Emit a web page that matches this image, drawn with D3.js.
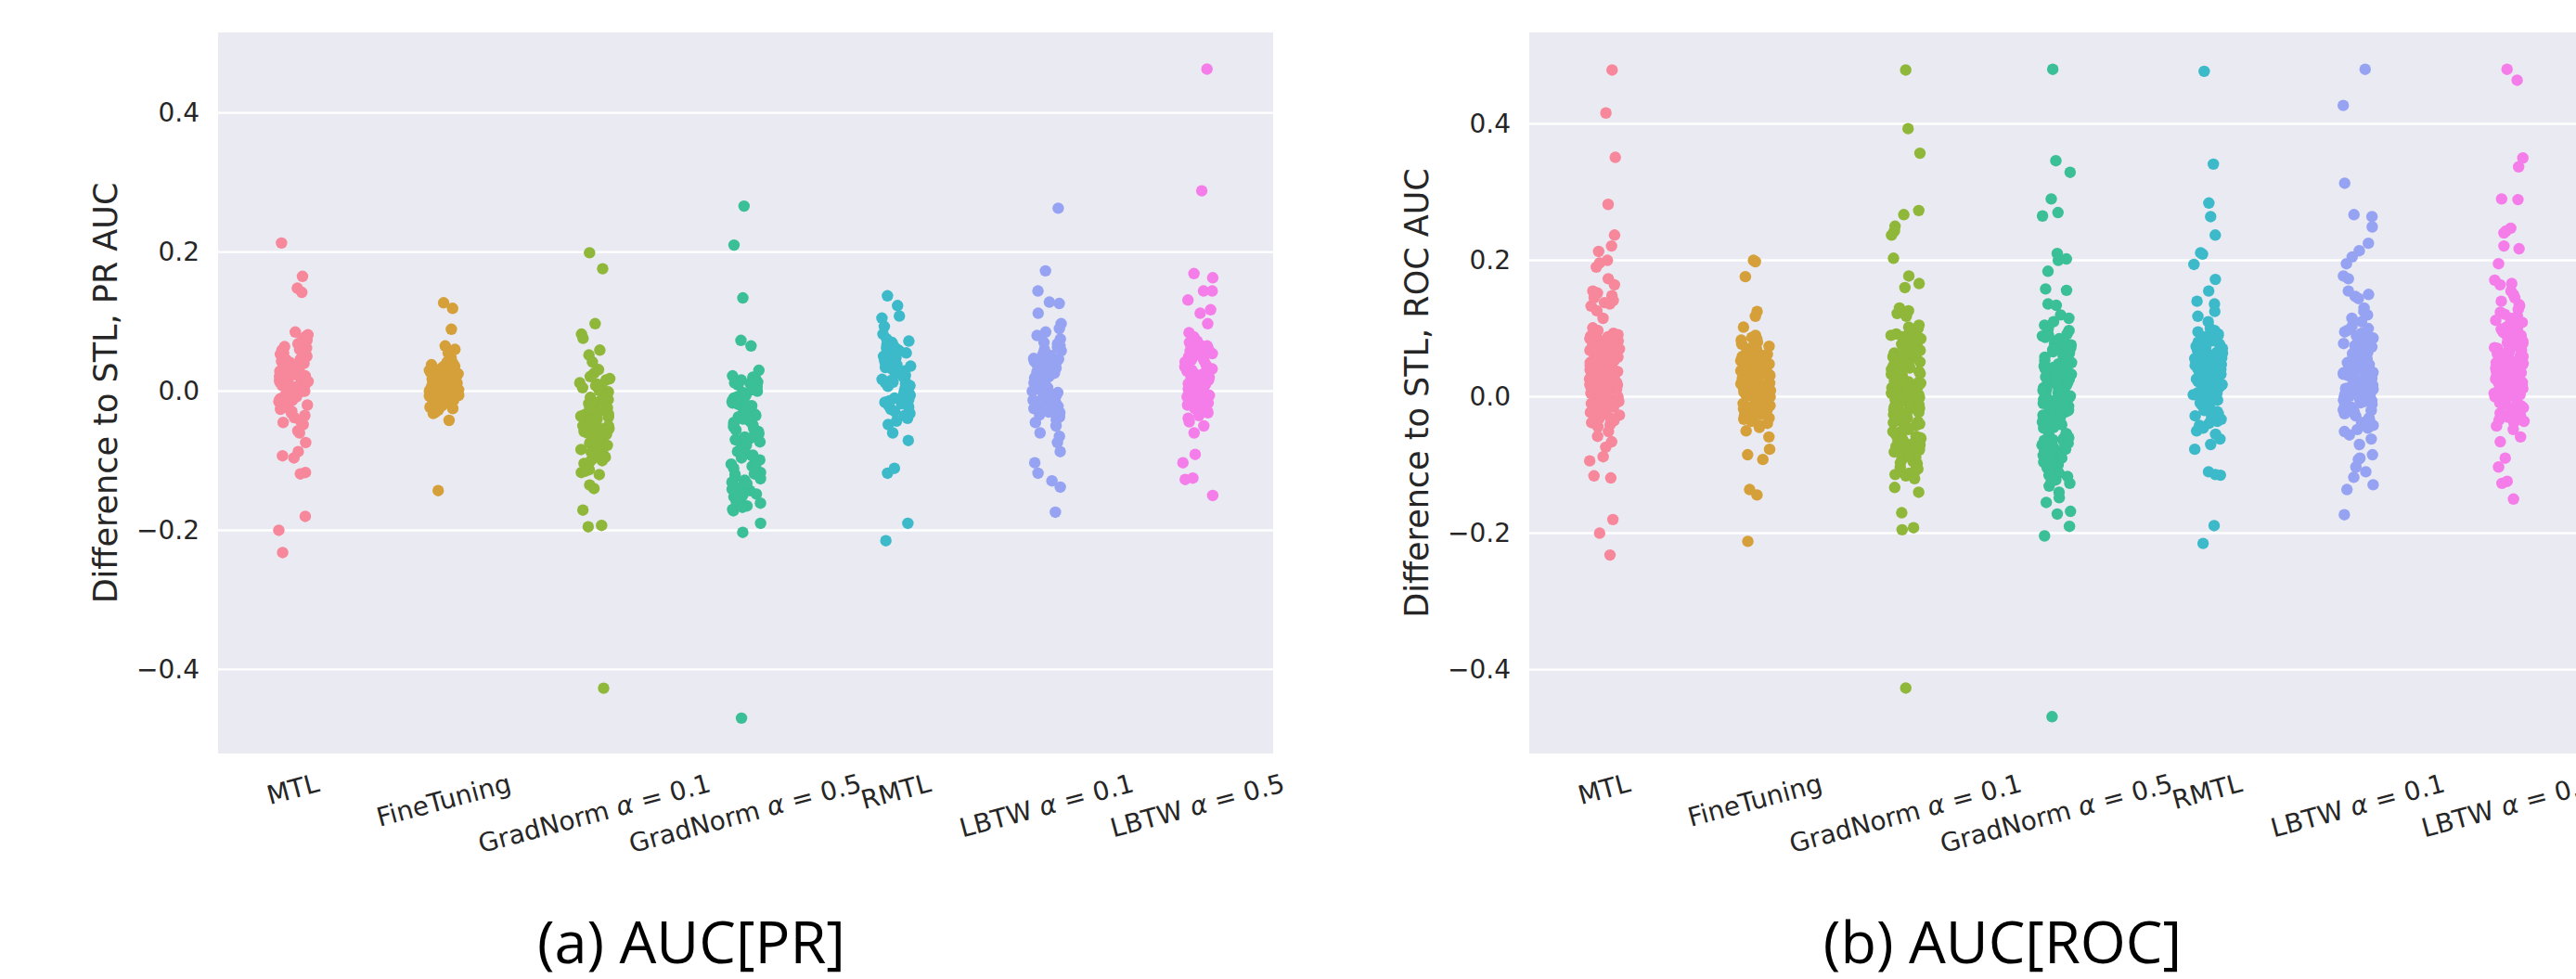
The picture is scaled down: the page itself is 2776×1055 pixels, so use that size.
<!DOCTYPE html>
<html><head><meta charset="utf-8">
<script src="https://cdn.jsdelivr.net/npm/d3@7"></script>
<style>body{margin:0;background:#fff}svg{display:block}</style>
</head><body>
<svg id="c" width="2776" height="1055"></svg>
<script>
const categories = ["MTL","FineTuning","GradNorm α = 0.1","GradNorm α = 0.5","RMTL","LBTW α = 0.1","LBTW α = 0.5"];
const yTickValues = [-0.4,-0.2,0,0.2,0.4];
const palette = ["#f7879a","#d5a03a","#8fb739","#3abf96","#3dbac9","#96a3f2","#f57de9"];
const captions = ["(a) AUC[PR]","(b) AUC[ROC]"];
const yLabels = ["Difference to STL, PR AUC","Difference to STL, ROC AUC"];

// ---- (a) PR AUC ----
const prMTL = [0.213,0.165,0.148,0.142,0.085,0.081,0.079,0.076,0.073,0.071,0.068,0.064,0.062,0.059,0.057,0.055,0.053,0.05,0.047,0.046,0.043,0.041,0.04,0.037,0.035,0.034,0.031,0.029,0.027,0.026,0.023,0.021,0.02,0.018,0.016,0.014,0.013,0.011,0.009,0.008,0.006,0.004,0.002,0.001,-0.001,-0.003,-0.004,-0.006,-0.008,-0.011,-0.013,-0.015,-0.018,-0.02,-0.023,-0.026,-0.029,-0.031,-0.035,-0.038,-0.042,-0.045,-0.048,-0.057,-0.06,-0.074,-0.087,-0.093,-0.096,-0.117,-0.119,-0.18,-0.2,-0.232,0.06,0.045,0.03,0.015,0.0,-0.01,0.052,0.022];
const prFineTuning = [0.127,0.119,0.089,0.065,0.06,0.055,0.048,0.042,0.04,0.038,0.036,0.035,0.033,0.031,0.03,0.029,0.027,0.026,0.025,0.024,0.022,0.021,0.02,0.019,0.018,0.017,0.016,0.015,0.014,0.013,0.012,0.011,0.011,0.01,0.009,0.008,0.008,0.007,0.006,0.005,0.005,0.004,0.003,0.002,0.002,0.001,0.0,0.0,-0.001,-0.002,-0.003,-0.004,-0.005,-0.006,-0.007,-0.008,-0.009,-0.01,-0.011,-0.013,-0.014,-0.016,-0.017,-0.019,-0.021,-0.023,-0.025,-0.027,-0.03,-0.032,-0.042,-0.143];
const prGradNorm01 = [0.199,0.176,0.097,0.082,0.076,0.059,0.052,0.042,0.031,0.026,0.021,0.018,0.016,0.012,0.01,0.008,0.005,0.004,0.001,-0.001,-0.003,-0.006,-0.007,-0.009,-0.012,-0.014,-0.015,-0.018,-0.02,-0.022,-0.024,-0.026,-0.028,-0.03,-0.031,-0.034,-0.036,-0.037,-0.04,-0.042,-0.043,-0.046,-0.048,-0.05,-0.052,-0.054,-0.056,-0.058,-0.06,-0.062,-0.064,-0.066,-0.069,-0.071,-0.073,-0.076,-0.078,-0.081,-0.084,-0.086,-0.089,-0.092,-0.095,-0.098,-0.1,-0.104,-0.107,-0.11,-0.113,-0.117,-0.12,-0.135,-0.14,-0.171,-0.193,-0.195,-0.427,-0.012,-0.033,-0.05,-0.063,-0.075,-0.088,-0.102,-0.115,0.008,-0.025];
const prGradNorm05 = [0.266,0.21,0.134,0.073,0.065,0.03,0.022,0.02,0.018,0.016,0.013,0.011,0.009,0.006,0.004,0.002,0.0,-0.002,-0.004,-0.006,-0.008,-0.01,-0.013,-0.015,-0.017,-0.019,-0.021,-0.024,-0.026,-0.028,-0.03,-0.033,-0.035,-0.037,-0.04,-0.042,-0.044,-0.047,-0.049,-0.051,-0.054,-0.056,-0.058,-0.061,-0.063,-0.066,-0.068,-0.071,-0.073,-0.076,-0.078,-0.081,-0.084,-0.087,-0.09,-0.093,-0.096,-0.099,-0.102,-0.105,-0.108,-0.111,-0.114,-0.117,-0.12,-0.124,-0.128,-0.131,-0.135,-0.139,-0.143,-0.148,-0.152,-0.156,-0.161,-0.165,-0.17,-0.172,-0.19,-0.203,-0.47,-0.092,-0.1,-0.107,-0.113,-0.119,-0.126,-0.133,-0.141,-0.15,-0.158,-0.167,-0.02,-0.045,-0.07,-0.005,0.012];
const prRMTL = [0.137,0.123,0.108,0.105,0.093,0.082,0.075,0.072,0.07,0.067,0.064,0.062,0.06,0.058,0.055,0.053,0.05,0.048,0.046,0.044,0.042,0.04,0.038,0.036,0.034,0.032,0.03,0.029,0.027,0.025,0.023,0.022,0.02,0.018,0.017,0.015,0.013,0.012,0.01,0.008,0.007,0.005,0.004,0.002,0.0,-0.001,-0.003,-0.005,-0.006,-0.008,-0.01,-0.012,-0.014,-0.016,-0.018,-0.021,-0.023,-0.026,-0.029,-0.032,-0.035,-0.039,-0.043,-0.048,-0.06,-0.071,-0.111,-0.118,-0.19,-0.215,0.065,0.045,0.028,0.01,-0.004,-0.02,0.052];
const prLBTW01 = [0.263,0.173,0.144,0.128,0.126,0.112,0.097,0.09,0.085,0.08,0.075,0.07,0.068,0.065,0.063,0.06,0.058,0.055,0.053,0.051,0.049,0.047,0.045,0.043,0.041,0.039,0.037,0.035,0.033,0.031,0.03,0.028,0.026,0.024,0.022,0.021,0.019,0.017,0.015,0.014,0.012,0.01,0.009,0.007,0.005,0.003,0.002,0.0,-0.002,-0.004,-0.005,-0.007,-0.009,-0.011,-0.013,-0.015,-0.017,-0.02,-0.022,-0.025,-0.028,-0.031,-0.034,-0.037,-0.041,-0.045,-0.05,-0.06,-0.065,-0.074,-0.087,-0.103,-0.118,-0.129,-0.138,-0.174,0.055,0.038,0.02,0.004,-0.01,-0.03,0.046];
const prLBTW05 = [0.463,0.288,0.169,0.163,0.144,0.144,0.131,0.117,0.112,0.097,0.084,0.078,0.075,0.072,0.07,0.068,0.066,0.064,0.062,0.06,0.058,0.056,0.054,0.052,0.05,0.048,0.046,0.044,0.042,0.04,0.038,0.036,0.034,0.032,0.03,0.029,0.027,0.025,0.023,0.021,0.02,0.018,0.016,0.014,0.013,0.011,0.009,0.007,0.005,0.004,0.002,0.0,-0.002,-0.004,-0.006,-0.008,-0.01,-0.012,-0.014,-0.017,-0.019,-0.022,-0.025,-0.028,-0.031,-0.035,-0.039,-0.044,-0.05,-0.06,-0.091,-0.103,-0.125,-0.127,-0.15,0.065,0.045,0.028,0.01,-0.005,-0.02,0.052,0.035];

// ---- (b) ROC AUC ----
const rocMTL = [0.479,0.416,0.351,0.282,0.237,0.221,0.213,0.2,0.196,0.19,0.173,0.164,0.155,0.152,0.148,0.145,0.141,0.138,0.136,0.133,0.126,0.115,0.101,0.097,0.093,0.091,0.089,0.088,0.086,0.085,0.083,0.082,0.081,0.079,0.078,0.077,0.075,0.074,0.073,0.071,0.07,0.069,0.068,0.066,0.065,0.064,0.062,0.061,0.06,0.059,0.058,0.056,0.055,0.054,0.053,0.052,0.051,0.05,0.049,0.047,0.046,0.045,0.044,0.043,0.042,0.041,0.04,0.039,0.038,0.037,0.036,0.035,0.034,0.033,0.032,0.031,0.03,0.029,0.028,0.027,0.026,0.025,0.024,0.023,0.022,0.021,0.02,0.019,0.018,0.017,0.016,0.015,0.014,0.013,0.012,0.011,0.01,0.009,0.008,0.007,0.006,0.005,0.004,0.003,0.002,0.001,0.0,-0.001,-0.003,-0.004,-0.005,-0.007,-0.008,-0.01,-0.011,-0.013,-0.015,-0.017,-0.019,-0.021,-0.023,-0.025,-0.027,-0.03,-0.032,-0.035,-0.038,-0.041,-0.044,-0.051,-0.058,-0.066,-0.074,-0.088,-0.094,-0.116,-0.119,-0.18,-0.2,-0.232,0.087,0.079,0.072,0.066,0.06,0.055,0.05,0.046,0.041,0.037,0.033,0.028,0.024,0.019,0.015,0.011,0.006,0.002,-0.002,-0.006,-0.012,-0.018,-0.024,-0.031,0.063,0.044,0.026,0.008,-0.009,0.052];
const rocFineTuning = [0.2,0.198,0.176,0.125,0.118,0.102,0.09,0.087,0.085,0.083,0.08,0.077,0.074,0.072,0.07,0.068,0.066,0.065,0.063,0.062,0.06,0.059,0.057,0.056,0.054,0.053,0.051,0.05,0.048,0.047,0.045,0.044,0.043,0.041,0.04,0.039,0.037,0.036,0.035,0.033,0.032,0.031,0.03,0.028,0.027,0.026,0.025,0.023,0.022,0.021,0.02,0.018,0.017,0.016,0.015,0.013,0.012,0.011,0.01,0.009,0.007,0.006,0.005,0.004,0.003,0.001,0.0,-0.001,-0.002,-0.004,-0.005,-0.006,-0.008,-0.009,-0.01,-0.012,-0.013,-0.015,-0.016,-0.018,-0.02,-0.022,-0.024,-0.026,-0.028,-0.031,-0.033,-0.036,-0.039,-0.042,-0.045,-0.05,-0.059,-0.077,-0.085,-0.092,-0.136,-0.144,-0.212,0.061,0.052,0.046,0.038,0.029,0.024,0.014,0.008,0.002,-0.003,-0.011,-0.019,-0.027,0.034,0.019];
const rocGradNorm01 = [0.479,0.393,0.357,0.273,0.267,0.25,0.243,0.237,0.203,0.177,0.166,0.16,0.13,0.126,0.122,0.118,0.105,0.102,0.1,0.095,0.092,0.09,0.088,0.085,0.083,0.081,0.079,0.077,0.075,0.073,0.071,0.07,0.068,0.066,0.064,0.063,0.061,0.059,0.058,0.056,0.054,0.053,0.051,0.05,0.048,0.046,0.045,0.043,0.042,0.04,0.039,0.037,0.036,0.034,0.033,0.031,0.03,0.028,0.027,0.025,0.024,0.022,0.021,0.019,0.018,0.016,0.015,0.013,0.012,0.01,0.009,0.007,0.006,0.004,0.003,0.001,0.0,-0.002,-0.003,-0.005,-0.006,-0.008,-0.009,-0.011,-0.012,-0.014,-0.015,-0.017,-0.018,-0.02,-0.021,-0.023,-0.025,-0.026,-0.028,-0.03,-0.031,-0.033,-0.035,-0.037,-0.038,-0.04,-0.042,-0.044,-0.046,-0.048,-0.05,-0.052,-0.054,-0.056,-0.058,-0.06,-0.062,-0.064,-0.066,-0.069,-0.071,-0.073,-0.076,-0.078,-0.081,-0.083,-0.086,-0.089,-0.092,-0.095,-0.098,-0.101,-0.104,-0.108,-0.112,-0.116,-0.12,-0.133,-0.14,-0.17,-0.192,-0.195,-0.427,0.087,0.074,0.065,0.057,0.049,0.041,0.032,0.023,0.014,0.005,-0.004,-0.013,-0.022,-0.032,-0.041,-0.051,-0.061,-0.07,-0.079,-0.088,-0.097,-0.106,-0.114,0.06,0.02,-0.019,-0.045,-0.067,0.038,-0.001];
const rocGradNorm05 = [0.48,0.346,0.329,0.29,0.27,0.265,0.21,0.202,0.2,0.184,0.158,0.156,0.136,0.134,0.12,0.115,0.11,0.105,0.1,0.097,0.094,0.092,0.089,0.087,0.085,0.082,0.08,0.078,0.076,0.074,0.072,0.07,0.068,0.066,0.064,0.062,0.06,0.058,0.057,0.055,0.053,0.051,0.05,0.048,0.046,0.045,0.043,0.041,0.04,0.038,0.037,0.035,0.033,0.032,0.03,0.029,0.027,0.026,0.024,0.022,0.021,0.019,0.018,0.016,0.015,0.013,0.012,0.01,0.008,0.007,0.005,0.004,0.002,0.001,-0.001,-0.002,-0.004,-0.006,-0.007,-0.009,-0.01,-0.012,-0.014,-0.015,-0.017,-0.019,-0.02,-0.022,-0.024,-0.026,-0.027,-0.029,-0.031,-0.033,-0.035,-0.037,-0.039,-0.041,-0.043,-0.045,-0.047,-0.049,-0.051,-0.054,-0.056,-0.058,-0.061,-0.063,-0.066,-0.068,-0.071,-0.074,-0.077,-0.08,-0.083,-0.086,-0.089,-0.092,-0.096,-0.1,-0.104,-0.108,-0.112,-0.117,-0.122,-0.127,-0.131,-0.14,-0.148,-0.155,-0.168,-0.172,-0.19,-0.204,-0.469,0.09,0.077,0.069,0.059,0.049,0.039,0.031,0.02,0.011,0.003,-0.005,-0.013,-0.021,-0.03,-0.038,-0.046,-0.055,-0.064,-0.072,-0.081,-0.09,-0.098,-0.106,-0.115,-0.124,0.052,0.009,-0.034,-0.06,-0.085];
const rocRMTL = [0.477,0.341,0.284,0.264,0.237,0.211,0.209,0.194,0.172,0.155,0.14,0.136,0.125,0.118,0.11,0.1,0.097,0.095,0.092,0.09,0.088,0.086,0.084,0.082,0.08,0.079,0.077,0.075,0.074,0.072,0.071,0.069,0.068,0.066,0.065,0.063,0.062,0.061,0.059,0.058,0.057,0.055,0.054,0.053,0.051,0.05,0.049,0.048,0.046,0.045,0.044,0.043,0.041,0.04,0.039,0.038,0.037,0.035,0.034,0.033,0.032,0.031,0.029,0.028,0.027,0.026,0.025,0.023,0.022,0.021,0.02,0.018,0.017,0.016,0.015,0.013,0.012,0.011,0.009,0.008,0.007,0.005,0.004,0.003,0.001,0.0,-0.002,-0.003,-0.005,-0.006,-0.008,-0.01,-0.012,-0.014,-0.016,-0.018,-0.02,-0.022,-0.025,-0.027,-0.03,-0.033,-0.036,-0.039,-0.042,-0.046,-0.05,-0.055,-0.062,-0.07,-0.077,-0.11,-0.114,-0.115,-0.189,-0.215,0.083,0.073,0.064,0.056,0.047,0.039,0.03,0.024,0.014,0.006,-0.001,-0.009,-0.017,-0.028,0.052,0.019];
const rocLBTW01 = [0.48,0.427,0.313,0.267,0.264,0.249,0.225,0.214,0.205,0.195,0.177,0.173,0.155,0.15,0.147,0.144,0.13,0.125,0.12,0.115,0.11,0.103,0.1,0.097,0.095,0.093,0.09,0.088,0.086,0.084,0.082,0.08,0.078,0.077,0.075,0.073,0.071,0.07,0.068,0.067,0.065,0.063,0.062,0.06,0.059,0.057,0.056,0.054,0.053,0.051,0.05,0.049,0.047,0.046,0.044,0.043,0.042,0.04,0.039,0.037,0.036,0.035,0.033,0.032,0.031,0.029,0.028,0.027,0.025,0.024,0.023,0.021,0.02,0.019,0.017,0.016,0.014,0.013,0.012,0.01,0.009,0.007,0.006,0.004,0.003,0.001,0.0,-0.002,-0.003,-0.005,-0.007,-0.009,-0.011,-0.013,-0.015,-0.017,-0.02,-0.022,-0.025,-0.028,-0.031,-0.034,-0.038,-0.042,-0.046,-0.051,-0.056,-0.062,-0.07,-0.085,-0.09,-0.092,-0.103,-0.11,-0.118,-0.129,-0.136,-0.173,0.089,0.076,0.066,0.058,0.048,0.038,0.03,0.022,0.015,0.008,0.002,-0.006,-0.014,-0.024,-0.036,-0.048,0.061,0.035,0.011,-0.019];
const rocLBTW05 = [0.48,0.464,0.35,0.337,0.29,0.289,0.247,0.243,0.24,0.221,0.217,0.195,0.171,0.166,0.164,0.155,0.15,0.145,0.14,0.135,0.133,0.128,0.124,0.121,0.118,0.115,0.112,0.109,0.107,0.104,0.102,0.1,0.098,0.096,0.094,0.092,0.09,0.088,0.086,0.085,0.083,0.081,0.079,0.078,0.076,0.074,0.073,0.071,0.07,0.068,0.066,0.065,0.063,0.062,0.06,0.059,0.057,0.056,0.054,0.053,0.051,0.05,0.048,0.047,0.046,0.044,0.043,0.041,0.04,0.038,0.037,0.036,0.034,0.033,0.031,0.03,0.029,0.027,0.026,0.024,0.023,0.022,0.02,0.019,0.017,0.016,0.015,0.013,0.012,0.01,0.009,0.007,0.006,0.004,0.003,0.001,0.0,-0.002,-0.004,-0.005,-0.007,-0.009,-0.011,-0.013,-0.016,-0.018,-0.021,-0.024,-0.027,-0.03,-0.034,-0.038,-0.043,-0.048,-0.059,-0.066,-0.09,-0.103,-0.124,-0.127,-0.15,0.11,0.099,0.087,0.077,0.067,0.058,0.049,0.042,0.035,0.028,0.021,0.014,0.008,0.002,-0.006,-0.015,-0.026,-0.036,0.072,0.045,0.025,0.005,-0.01,0.093,0.061];

const prSeries = [prMTL, prFineTuning, prGradNorm01, prGradNorm05, prRMTL, prLBTW01, prLBTW05];
const rocSeries = [rocMTL, rocFineTuning, rocGradNorm01, rocGradNorm05, rocRMTL, rocLBTW01, rocLBTW05];

// ---- layout ----
const panels = [
  {series: prSeries, x0: 235, x1: 1372, y0: 35, y1: 812, dom: [-0.5209, 0.5156], ylab: yLabels[0], ylabX: 126, cap: captions[0], capX: 745},
  {series: rocSeries, x0: 1648, x1: 2785, y0: 35, y1: 812, dom: [-0.523, 0.534], ylab: yLabels[1], ylabX: 1539, cap: captions[1], capX: 2158}
];
const svg = d3.select("#c");
const ink = "#262626";
const tickFs = 28;
const th = 15 * Math.PI / 180;

function jit(i, k) { const s = Math.sin(i * 127.1 + k * 311.7) * 43758.5453; return s - Math.floor(s); }

panels.forEach((p, pi) => {
  const g = svg.append("g");
  const x = d3.scaleBand().domain(categories).range([p.x0, p.x1]).padding(0);
  const y = d3.scaleLinear().domain(p.dom).range([p.y1, p.y0]);
  g.append("rect").attr("x", p.x0).attr("y", p.y0).attr("width", p.x1 - p.x0).attr("height", p.y1 - p.y0).attr("fill", "#eaeaf2");
  g.selectAll("line.grid").data(yTickValues).join("line")
    .attr("x1", p.x0).attr("x2", p.x1).attr("y1", d => y(d)).attr("y2", d => y(d))
    .attr("stroke", "#fff").attr("stroke-width", 2.4);
  const ya = d3.axisLeft(y).tickValues(yTickValues).tickSize(0).tickPadding(20)
    .tickFormat(d => d3.format(".1f")(d).replace("-", "\u2212"));
  const yg = g.append("g").attr("transform", `translate(${p.x0},0)`).call(ya);
  yg.select(".domain").remove();
  yg.selectAll("text").attr("font-family", "DejaVu Sans").attr("font-size", tickFs).attr("fill", ink);
  g.append("text").attr("transform", `translate(${p.ylabX},${(p.y0 + p.y1) / 2}) rotate(-90)`)
    .attr("text-anchor", "middle").attr("font-family", "DejaVu Sans").attr("font-size", 35).attr("fill", ink).text(p.ylab);
  categories.forEach((c, i) => {
    const t = g.append("text").attr("font-family", "DejaVu Sans").attr("font-size", tickFs).attr("fill", ink).attr("text-anchor", "middle");
    const parts = c.split("α");
    t.append("tspan").text(parts[0]);
    if (parts.length > 1) {
      t.append("tspan").attr("font-style", "italic").text("α");
      t.append("tspan").text(parts[1]);
    }
    const w = t.node().getComputedTextLength();
    const h = tickFs * 0.97;
    const H = w * Math.sin(th) + h * Math.cos(th);
    const cx = x(c) + x.bandwidth() / 2, cy = p.y1 + 20 + H / 2;
    t.attr("y", tickFs * 0.275).attr("transform", `translate(${cx},${cy}) rotate(-15)`);
  });
  p.series.forEach((vals, ci) => {
    const cxm = x(categories[ci]) + x.bandwidth() / 2;
    g.append("g").selectAll("circle").data(vals).join("circle")
      .attr("cx", (d, i) => cxm + (jit(i + 1, ci + 7 * pi + 1) - 0.5) * 0.2 * x.bandwidth())
      .attr("cy", d => y(d))
      .attr("r", 6.2)
      .attr("fill", palette[ci]);
  });
  svg.append("text").attr("x", p.capX).attr("y", 1038).attr("text-anchor", "middle")
    .attr("font-family", "Open Sans").attr("font-size", 63).attr("fill", "#000").text(p.cap);
});
</script>
</body></html>
